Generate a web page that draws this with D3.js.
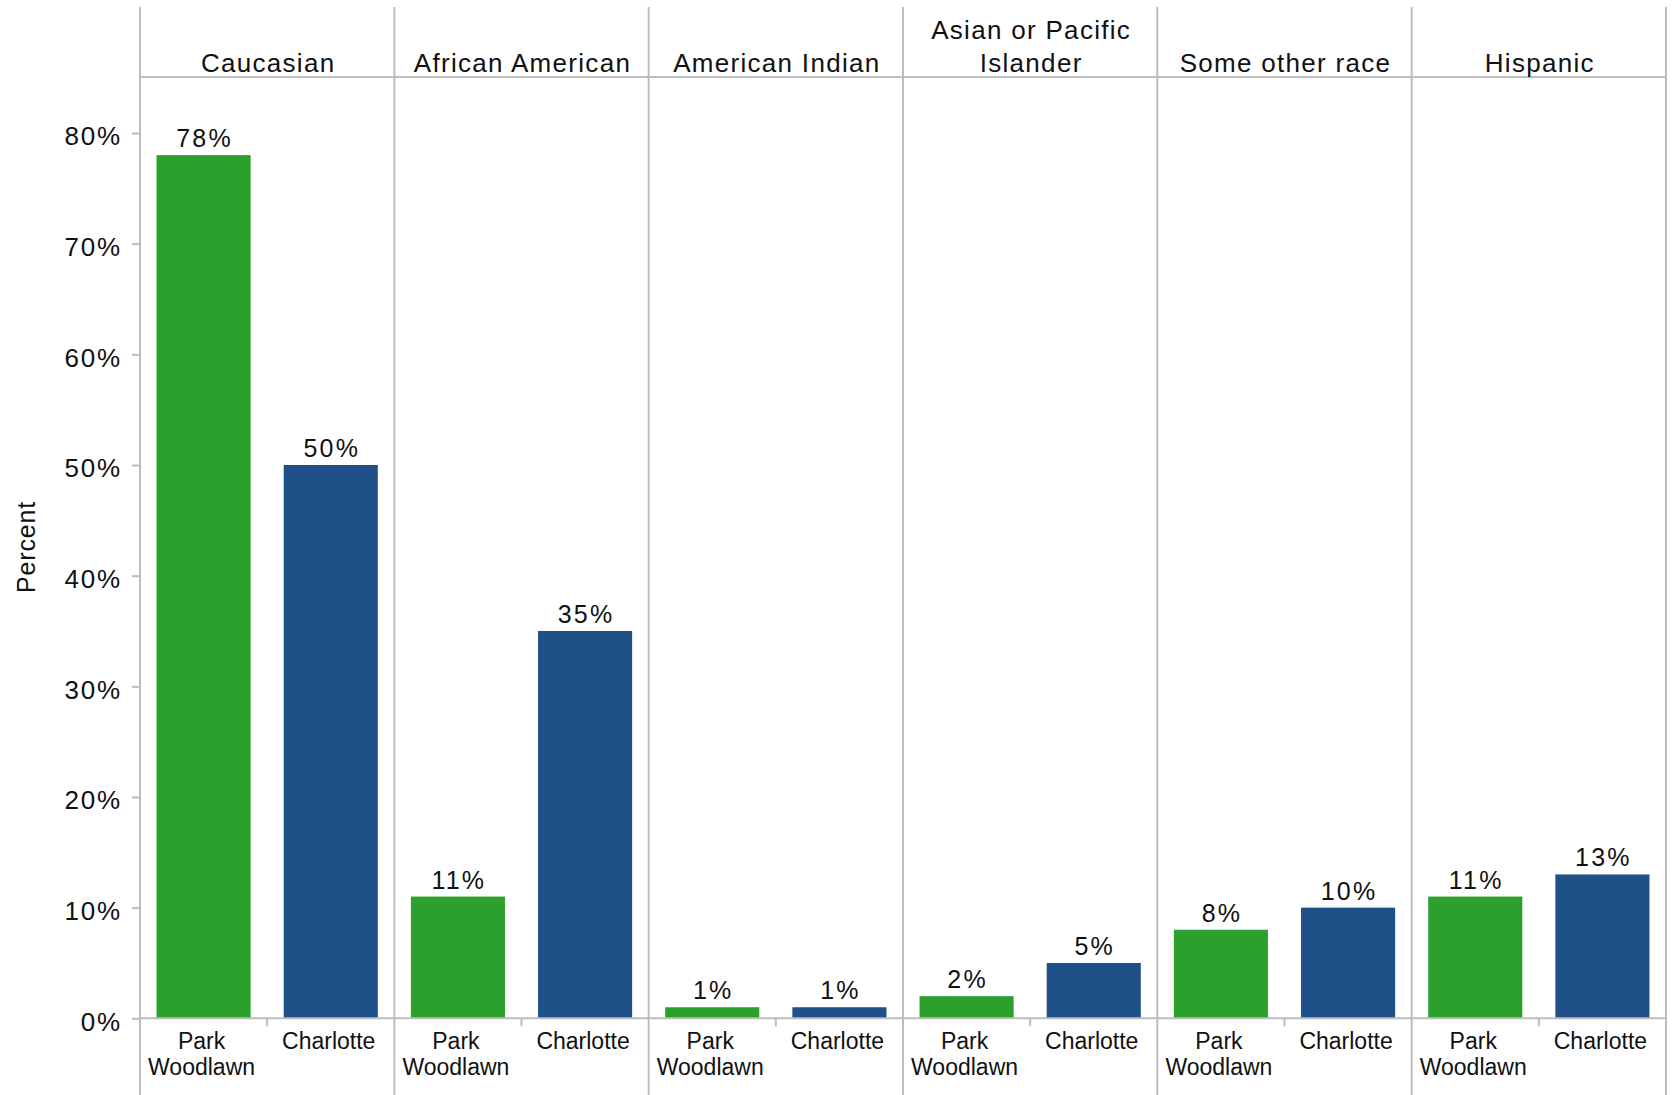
<!DOCTYPE html>
<html>
<head>
<meta charset="utf-8">
<script src="https://cdn.jsdelivr.net/npm/d3@7"></script>
<style>
  html, body { margin: 0; padding: 0; background: #fff; }
  text { font-family: "Liberation Sans", Arial, sans-serif; fill: #111; }
</style>
</head>
<body>
<svg id="chart" width="1675" height="1095"></svg>
<script>
const categories = ["Caucasian", "African American", "American Indian", "Asian or Pacific Islander", "Some other race", "Hispanic"];
const categoryLines = [["Caucasian"], ["African American"], ["American Indian"], ["Asian or Pacific", "Islander"], ["Some other race"], ["Hispanic"]];
const groups = ["Park Woodlawn", "Charlotte"];
const groupLines = [["Park", "Woodlawn"], ["Charlotte"]];
const parkWoodlawn = [78, 11, 1, 2, 8, 11];
const charlotte = [50, 35, 1, 5, 10, 13];
const yTicks = [0, 10, 20, 30, 40, 50, 60, 70, 80];
const colors = ["#2ca02c", "#1f5188"];

(function () {
const svg = d3.select("#chart");
const gridColor = "#bdbdbd";

const mLeft = 140, mRight = 1666, mTop = 7, headerY = 77, mBottom = 1095;
const y = d3.scaleLinear().domain([0, 80]).range([1018.3, 133]);
const outer = d3.scaleBand().domain(categories).range([mLeft, mRight]).padding(0);
const inner = d3.scaleBand().domain(groups).range([0, outer.bandwidth()]).paddingInner(0.26).paddingOuter(0.13);

const values = categories.map((c, i) => [parkWoodlawn[i], charlotte[i]]);

const edges = categories.map(c => outer(c)).concat([mRight]);
svg.selectAll("line.vborder").data(edges).enter().append("line")
  .attr("x1", d => d).attr("x2", d => d)
  .attr("y1", mTop).attr("y2", mBottom)
  .attr("stroke", gridColor).attr("stroke-width", 2);

svg.append("line").attr("x1", mLeft).attr("x2", mRight).attr("y1", headerY).attr("y2", headerY)
  .attr("stroke", gridColor).attr("stroke-width", 2);

const panels = svg.selectAll("g.panel").data(categories).enter().append("g")
  .attr("transform", d => `translate(${outer(d)},0)`);

panels.each(function(cat, ci) {
  const g = d3.select(this);
  groups.forEach((grp, gi) => {
    const v = values[ci][gi];
    g.append("rect")
      .attr("x", inner(grp))
      .attr("y", y(v))
      .attr("width", inner.bandwidth())
      .attr("height", y(0) - y(v))
      .attr("fill", colors[gi]);
    g.append("text")
      .attr("x", inner(grp) + inner.bandwidth() / 2 + 1)
      .attr("y", y(v) - 8)
      .attr("text-anchor", "middle")
      .style("font-size", "25px")
      .style("letter-spacing", "2.2px")
      .text(v + "%");
    const t = g.append("text")
      .attr("text-anchor", "middle")
      .style("font-size", "23px");
    groupLines[gi].forEach((ln, li) => {
      t.append("tspan")
        .attr("x", inner(grp) + inner.bandwidth() / 2 - 2)
        .attr("y", 1049 + li * 26)
        .text(ln);
    });
  });
  const mid = outer.bandwidth() / 2;
  g.append("line").attr("x1", mid).attr("x2", mid).attr("y1", y(0)).attr("y2", y(0) + 8)
    .attr("stroke", gridColor).attr("stroke-width", 2);
  const lines = categoryLines[ci];
  const h = g.append("text").attr("text-anchor", "middle")
    .style("font-size", "26px").style("letter-spacing", "1.3px");
  lines.forEach((ln, li) => {
    h.append("tspan")
      .attr("x", outer.bandwidth() / 2 + 1)
      .attr("y", 72 - (lines.length - 1 - li) * 33)
      .text(ln);
  });
});

svg.append("line").attr("x1", mLeft).attr("x2", mRight).attr("y1", y(0)).attr("y2", y(0))
  .attr("stroke", gridColor).attr("stroke-width", 2);

const yAxis = d3.axisLeft(y).tickValues(yTicks).tickSize(8).tickPadding(10).tickFormat(d => d + "%");
const yg = svg.append("g").attr("transform", `translate(${mLeft},0)`).call(yAxis);
yg.select(".domain").remove();
yg.selectAll(".tick line").attr("stroke", gridColor).attr("stroke-width", 2);
yg.selectAll(".tick text")
  .style("font-size", "26px").style("letter-spacing", "1.8px")
  .attr("fill", "#111").attr("font-family", null).attr("dy", "0.45em");

svg.append("text")
  .attr("transform", "translate(35,547) rotate(-90)")
  .attr("text-anchor", "middle")
  .style("font-size", "25px").style("letter-spacing", "0.8px")
  .text("Percent");
})();
</script>
</body>
</html>
